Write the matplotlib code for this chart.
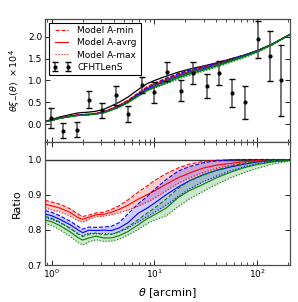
import numpy as np
import matplotlib
matplotlib.use('Agg')
from matplotlib import pyplot as plt

plt.rcParams['font.family'] = ['DejaVu Sans Condensed', 'Liberation Sans Narrow', 'DejaVu Sans']
plt.rcParams['mathtext.fontset'] = 'dejavusans'

# CFHTLenS measurements
theta_obs = [0.98, 1.30, 1.75, 2.32, 3.11, 4.19, 5.56, 7.5, 9.9, 13.3, 18.0, 23.9,
             32.2, 42.9, 57.0, 76.6, 101.0, 133.0, 170.0]
xi_obs = [0.145, -0.14, -0.12, 0.56, 0.32, 0.66, 0.24, 0.90, 0.73, 1.20, 0.77, 1.17,
          0.88, 1.17, 0.71, 0.50, 1.94, 1.55, 1.00]
xi_err = [0.23, 0.18, 0.17, 0.19, 0.17, 0.21, 0.19, 0.19, 0.24, 0.22, 0.24, 0.25,
          0.27, 0.28, 0.32, 0.38, 0.42, 0.57, 0.80]

# model grid
theta = [0.86, 1.0, 1.2, 1.5, 1.8, 2.0, 2.3, 2.7, 3.2, 3.8, 4.5, 5.5, 7.0, 8.5,
         10, 13, 17, 22, 30, 40, 55, 75, 100, 140, 208]
# reference model (black)
xi_ref = [0.07, 0.11, 0.17, 0.22, 0.26, 0.27, 0.28, 0.30, 0.34, 0.42, 0.50, 0.62,
          0.80, 0.93, 1.00, 1.10, 1.19, 1.26, 1.33, 1.40, 1.49, 1.58, 1.68, 1.83, 2.05]

# ratios: min (dashed), avrg (solid), max (dotted)
red_min = [0.884, 0.879, 0.873, 0.860, 0.845, 0.838, 0.842, 0.848, 0.850, 0.858, 0.868, 0.885,
           0.908, 0.925, 0.940, 0.960, 0.976, 0.987, 0.995, 0.998, 1.0, 1.0, 1.0, 1.0, 1.0]
red_avg = [0.873, 0.868, 0.862, 0.850, 0.835, 0.830, 0.836, 0.843, 0.844, 0.850, 0.858, 0.870,
           0.888, 0.900, 0.911, 0.930, 0.948, 0.962, 0.976, 0.984, 0.989, 0.994, 0.997, 0.999, 1.0]
red_max = [0.862, 0.857, 0.851, 0.840, 0.826, 0.822, 0.830, 0.838, 0.839, 0.843, 0.849, 0.856,
           0.868, 0.879, 0.890, 0.911, 0.932, 0.948, 0.963, 0.975, 0.984, 0.991, 0.995, 0.998, 1.0]

blue_min = [0.855, 0.850, 0.840, 0.825, 0.810, 0.802, 0.808, 0.807, 0.808, 0.810, 0.820, 0.845,
            0.875, 0.895, 0.915, 0.943, 0.967, 0.980, 0.991, 0.996, 0.999, 1.0, 1.0, 1.0, 1.0]
blue_avg = [0.845, 0.840, 0.830, 0.815, 0.800, 0.792, 0.799, 0.798, 0.799, 0.798, 0.805, 0.820,
            0.848, 0.862, 0.876, 0.900, 0.922, 0.940, 0.957, 0.969, 0.979, 0.987, 0.993, 0.997, 1.0]
blue_max = [0.835, 0.830, 0.820, 0.805, 0.790, 0.783, 0.790, 0.789, 0.790, 0.788, 0.793, 0.805,
            0.823, 0.838, 0.850, 0.870, 0.895, 0.917, 0.937, 0.953, 0.968, 0.980, 0.988, 0.994, 0.998]

green_min = [0.838, 0.833, 0.822, 0.805, 0.788, 0.781, 0.787, 0.791, 0.786, 0.787, 0.795, 0.808,
             0.830, 0.848, 0.862, 0.888, 0.918, 0.940, 0.956, 0.970, 0.981, 0.989, 0.994, 0.997, 1.0]
green_avg = [0.828, 0.823, 0.812, 0.795, 0.778, 0.771, 0.777, 0.782, 0.777, 0.777, 0.783, 0.795,
             0.815, 0.832, 0.843, 0.862, 0.892, 0.912, 0.930, 0.948, 0.964, 0.977, 0.986, 0.993, 0.998]
green_max = [0.818, 0.812, 0.800, 0.782, 0.764, 0.757, 0.766, 0.772, 0.767, 0.768, 0.773, 0.785,
             0.802, 0.818, 0.828, 0.840, 0.866, 0.888, 0.910, 0.929, 0.948, 0.963, 0.975, 0.987, 0.996]

models = [('r', red_min, red_avg, red_max),
          ('b', blue_min, blue_avg, blue_max),
          ('g', green_min, green_avg, green_max)]

fig = plt.figure(figsize=(2.98, 3.02), dpi=100)
ax1 = fig.add_axes([0.151, 0.530, 0.822, 0.407])
ax2 = fig.add_axes([0.151, 0.1225, 0.822, 0.4075], sharex=ax1)

th = np.array(theta)
ref = np.array(xi_ref)

# top panel
ax1.plot(th, ref, color='k', lw=0.9)
for c, lo, mid, hi in models:
    lo, mid, hi = np.array(lo), np.array(mid), np.array(hi)
    ax1.fill_between(th, ref * lo, ref * hi, color=c, alpha=0.25, lw=0)
    ax1.plot(th, ref * lo, color=c, ls='--', lw=0.8)
    ax1.plot(th, ref * mid, color=c, ls='-', lw=0.8)
    ax1.plot(th, ref * hi, color=c, ls=':', lw=0.8)

eb = ax1.errorbar(theta_obs, xi_obs, yerr=xi_err, fmt='k.', ms=4, ecolor='0.3',
                  elinewidth=1.1, capsize=2.5, capthick=1)
for cap in eb[1]:
    cap.set_markeredgecolor('k')

# legend proxies
h_min, = ax1.plot([], [], color='r', ls='--', lw=0.8)
h_avg, = ax1.plot([], [], color='r', ls='-', lw=0.8)
h_max, = ax1.plot([], [], color='r', ls=':', lw=0.8)
leg = ax1.legend([h_min, h_avg, h_max, eb], ['Model A-min', 'Model A-avrg', 'Model A-max', 'CFHTLenS'],
                 loc='upper left', fontsize=6.5, numpoints=2, fancybox=False, framealpha=1,
                 handlelength=2.0, borderaxespad=0.4, labelspacing=0.35)
leg.get_frame().set_edgecolor('k')
leg.get_frame().set_linewidth(0.8)

ax1.set_xscale('log')
ax1.set_xlim(0.86, 208)
ax1.set_ylim(-0.4, 2.4)
ax1.set_yticks([0.0, 0.5, 1.0, 1.5, 2.0])
ax1.set_ylabel(r'$\theta\xi_{-}(\theta)\ \times 10^4$', fontsize=6.8)
plt.setp(ax1.get_xticklabels(), visible=False)

# bottom panel
ax2.axhline(1.0, color='0.2', lw=1.0)
for c, lo, mid, hi in models:
    ax2.fill_between(th, lo, hi, color=c, alpha=0.2, lw=0)
    ax2.plot(th, lo, color=c, ls='--', lw=0.8)
    ax2.plot(th, mid, color=c, ls='-', lw=0.8)
    ax2.plot(th, hi, color=c, ls=':', lw=0.8)

ax2.set_ylim(0.7, 1.05)
ax2.set_yticks([0.7, 0.8, 0.9, 1.0])
ax2.set_ylabel('Ratio', fontsize=8)
ax2.set_xlabel(r'$\theta$ [arcmin]', fontsize=8)

for ax in (ax1, ax2):
    ax.tick_params(which='both', direction='in', top=True, right=True, labelsize=6.5, pad=2)
    ax.tick_params(which='major', length=3.5, width=0.6)
    ax.tick_params(which='minor', length=2, width=0.5)
    for sp in ax.spines.values():
        sp.set_color('0.3')
        sp.set_linewidth(0.9)

fig.savefig('out.png', dpi=100)
